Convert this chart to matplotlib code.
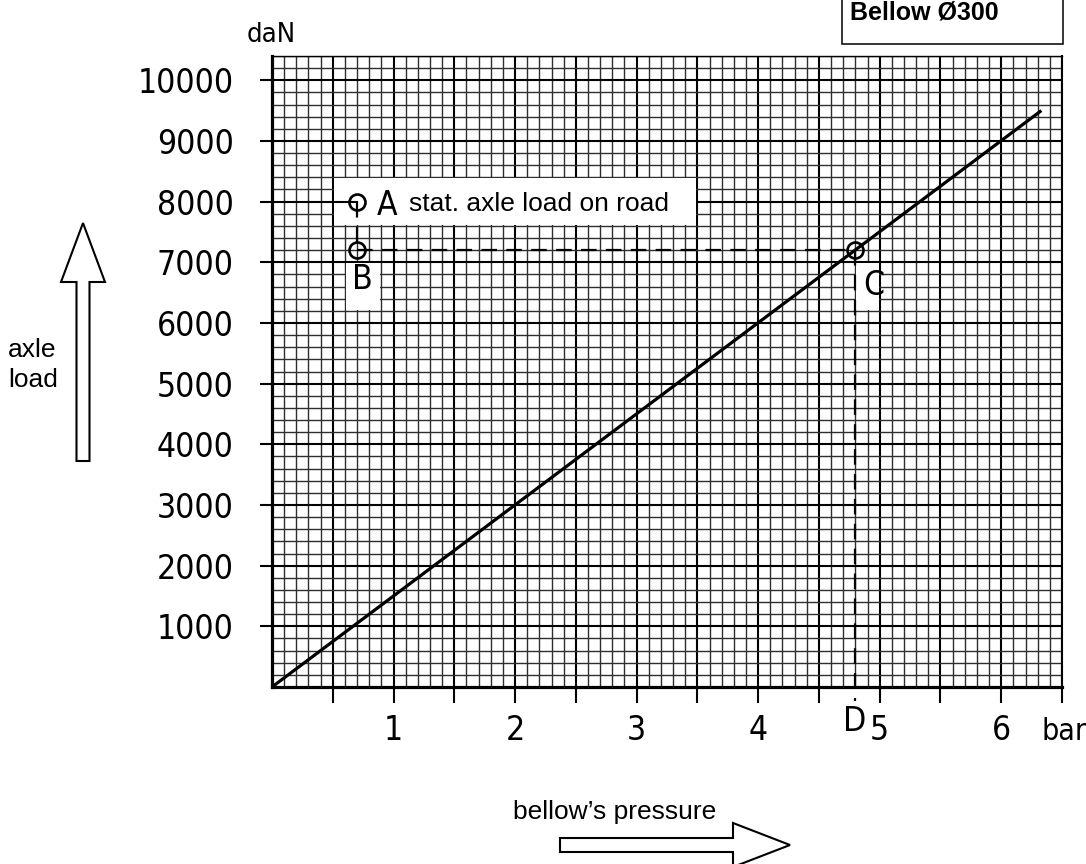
import os
import numpy as np
import matplotlib
matplotlib.use('Agg')
import matplotlib.pyplot as plt
from matplotlib import font_manager
from matplotlib.patches import Rectangle, FancyArrow
from matplotlib.ticker import MultipleLocator
from matplotlib.textpath import TextPath

# characteristic line of the bellow (bar -> daN)
line_pressure = [0.0, 6.33]
line_load = [0, 9500]

# worked example points
pt_names = ['A', 'B', 'C']
pt_pressure = [0.7, 0.7, 4.8]
pt_load = [8000, 7200, 7200]
d_pressure = 4.8

xtick_vals = [0.5, 1.0, 1.5, 2.0, 2.5, 3.0, 3.5, 4.0, 4.5, 5.0, 5.5, 6.0, 6.5]
ytick_vals = [1000, 2000, 3000, 4000, 5000, 6000, 7000, 8000, 9000, 10000]

W, H, DPI = 1086, 864, 100


def find_font(names):
    files = {}
    for f in font_manager.fontManager.ttflist:
        key = os.path.splitext(os.path.basename(f.fname))[0].lower()
        files[key] = f.fname
    for n in names:
        if n.lower() in files:
            return files[n.lower()]
    return None


tech_file = find_font(['NotoSans-ExtraCondensedLight', 'NotoSans-ExtraCondensed',
                       'LiberationSansNarrow-Regular', 'NotoSans-CondensedLight',
                       'NotoSans-Condensed', 'DejaVuSansCondensed'])


def tech_font(size):
    if tech_file:
        return font_manager.FontProperties(fname=tech_file, size=size)
    return font_manager.FontProperties(family='DejaVu Sans', size=size)


def fit_size(text, height_px, width_px):
    # size so that digits are about height_px high, without getting much wider than width_px
    fp = tech_font(10)
    ext = TextPath((0, 0), text, prop=fp).get_extents()
    h = ext.height * DPI / 72 / 10
    w = ext.width * DPI / 72 / 10
    return min(height_px / h, 1.16 * width_px / w)


tick_size = fit_size('10000', 27, 78)
fp_tick = tech_font(tick_size)
fp_small = tech_font(tick_size * 0.82)
fp_bar = tech_font(tick_size * 0.9)

fig = plt.figure(figsize=(W / DPI, H / DPI), dpi=DPI)

# overlay in pixel coordinates for the decorations around the chart
ov = fig.add_axes([0, 0, 1, 1], zorder=-1)
ov.set_xlim(0, W)
ov.set_ylim(H, 0)
ov.axis('off')

ax = fig.add_axes([272 / W, 177 / H, 790 / W, 631 / H])
ax.set_xlim(0, 6.5)
ax.set_ylim(0, 10400)

# graph paper
ax.set_axisbelow(True)
ax.xaxis.set_minor_locator(MultipleLocator(0.1))
ax.yaxis.set_minor_locator(MultipleLocator(200))
ax.grid(which='minor', color='#2e2e2e', lw=1.0)
ax.grid(which='major', color='black', lw=1.5)

ax.set_xticks(xtick_vals)
ax.set_xticklabels([f'{v:g}' if v == int(v) else '' for v in xtick_vals], fontproperties=fp_tick)
ax.set_yticks(ytick_vals)
ax.set_yticklabels([str(v) for v in ytick_vals], fontproperties=fp_tick)
ax.tick_params(which='minor', length=0)
ax.tick_params(axis='x', which='major', direction='out', length=11.5, width=1.5, pad=8)
ax.tick_params(axis='y', which='major', direction='out', length=8.6, width=1.5, pad=19)

for side in ['left', 'bottom']:
    ax.spines[side].set_linewidth(2.3)
ax.spines['right'].set_linewidth(1.5)
ax.spines['top'].set_linewidth(1.0)

# white label fields
dx, dy = 0.008, 15
ax.add_patch(Rectangle((0.5 + dx, 7600 + dy), 3.0 - 2 * dx, 800 - 2 * dy, fc='white', ec='none', zorder=1))
ax.add_patch(Rectangle((0.6 + dx, 6200 + dy), 0.3 - 2 * dx, 800 - 2 * dy, fc='white', ec='none', zorder=1))
ax.add_patch(Rectangle((4.8 + dx, 6200 + dy), 0.2 - 2 * dx, 800 - 2 * dy, fc='white', ec='none', zorder=1))

# characteristic
ax.plot(line_pressure, line_load, color='black', lw=2.3, zorder=3, solid_capstyle='butt')

# construction lines A -> B -> C -> D
dash = (0, (7, 4.2))
ax.plot([0.5, pt_pressure[0]], [pt_load[0], pt_load[0]], color='black', lw=1.5, zorder=2)
ax.plot([pt_pressure[0], pt_pressure[1]], [pt_load[0], pt_load[1]], color='black', lw=1.6, ls=dash, zorder=2)
ax.plot([pt_pressure[1], pt_pressure[2]], [pt_load[1], pt_load[2]], color='black', lw=1.6, ls=dash, zorder=2)
ax.plot([pt_pressure[2], d_pressure], [pt_load[2], -230], color='black', lw=1.6, ls=dash, zorder=2,
        clip_on=False)
ax.plot(pt_pressure, pt_load, ls='none', marker='o', ms=11.5, mfc='none', mec='black', mew=1.9, zorder=4)

ax.text(0.86, 7930, 'A', fontproperties=fp_tick, ha='left', va='center', zorder=5)
ax.text(1.13, 7960, 'stat. axle load on road', family='Liberation Sans', fontsize=19,
        ha='left', va='center', zorder=5)
ax.text(0.745, 6720, 'B', fontproperties=fp_tick, ha='center', va='center', zorder=5)
ax.text(4.95, 6620, 'C', fontproperties=fp_tick, ha='center', va='center', zorder=5)

# axis units and D marker
ov.text(271, 42, 'daN', fontproperties=fp_small, ha='center', va='baseline')
ov.text(1041, 740, 'bar', fontproperties=fp_bar, ha='left', va='baseline')
ov.text(855, 731, 'D', fontproperties=fp_tick, ha='center', va='baseline')

# axis captions with hollow arrows
ov.add_patch(FancyArrow(83, 461, 0, -238, width=13, head_width=44, head_length=59,
                        length_includes_head=True, fc='white', ec='black', lw=1.5))
ov.text(8, 357, 'axle', family='Liberation Sans', fontsize=19, ha='left', va='baseline')
ov.text(8, 387, 'load', family='Liberation Sans', fontsize=19, ha='left', va='baseline')

ov.add_patch(FancyArrow(560, 845, 230, 0, width=14, head_width=44, head_length=57,
                        length_includes_head=True, fc='white', ec='black', lw=1.5, clip_on=False))
ov.text(513, 819, 'bellow\u2019s pressure', family='Liberation Sans', fontsize=19,
        ha='left', va='baseline')

# title field, cut by the top edge
ov.add_patch(Rectangle((842, -10), 221, 54, fc='white', ec='black', lw=1.1, clip_on=False))
ov.text(850, 20, 'Bellow \u00d8300', family='Liberation Sans', fontsize=18, fontweight='bold',
        ha='left', va='baseline')

fig.savefig('out.png', dpi=DPI)
plt.close(fig)
